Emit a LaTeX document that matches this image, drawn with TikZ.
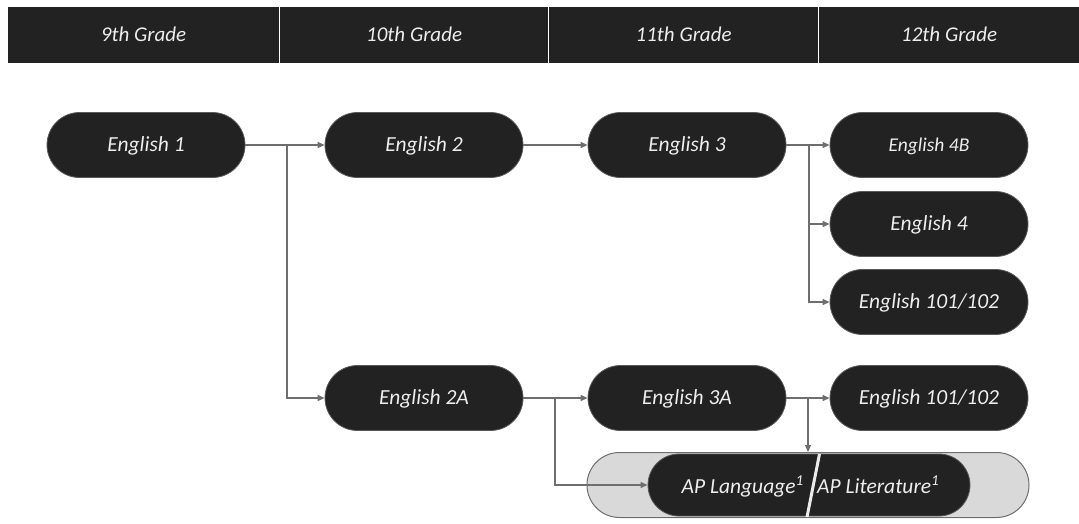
\documentclass[tikz,border=0pt]{standalone}
\usepackage{fontspec}
\setmainfont{Carlito}
\usetikzlibrary{shapes.misc,arrows.meta}
\definecolor{pilldark}{HTML}{222222}
\definecolor{pillline}{HTML}{5A5A5A}
\definecolor{linkgray}{HTML}{6E6E6E}
\definecolor{lightpill}{HTML}{D9D9D9}
\definecolor{txt}{HTML}{EEEEEE}
\tikzset{
  course/.style={rounded rectangle, fill=pilldark, draw=pillline, line width=0.8pt,
    minimum width=198pt, minimum height=65pt, inner sep=0pt,
    text height=15pt, text depth=2pt,
    text=txt, font=\fontsize{21.5}{24}\selectfont\itshape},
  header/.style={rectangle, fill=pilldark, draw=white, line width=1.2pt,
    minimum height=57pt, inner sep=0pt, anchor=north west,
    text height=15pt, text depth=2pt,
    text=txt, font=\fontsize{21}{24}\selectfont\itshape},
  aptext/.style={text=txt, font=\fontsize{21.5}{24}\selectfont\itshape, inner sep=0pt},
  link/.style={draw=linkgray, line width=1.3pt, -{Triangle[length=7pt,width=6pt]}}
}
\begin{document}
\begin{tikzpicture}[x=1pt,y=-1pt]
\useasboundingbox (0,0) rectangle (1079,523);
% header
\draw[draw=gray!60, line width=1pt, fill=pilldark] (7,6) rectangle (1079,63);
\node[header, minimum width=272pt] (h9) at (7,6) {9th Grade};
\node[header, minimum width=269pt] (h10) at (279,6) {10th Grade};
\node[header, minimum width=270pt] (h11) at (548,6) {11th Grade};
\node[header, minimum width=261pt] (h12) at (818,6) {12th Grade};
% courses
\node[course] (e1) at (146,145) {English 1};
\node[course] (e2) at (424,145) {English 2};
\node[course] (e3) at (687,145) {English 3};
\node[course, font=\fontsize{19.5}{22}\selectfont\itshape] (e4b) at (929,145) {English 4B};
\node[course] (e4) at (929,224) {English 4};
\node[course] (e101a) at (929,302) {English 101/102};
\node[course] (e2a) at (424,398) {English 2A};
\node[course] (e3a) at (687,398) {English 3A};
\node[course] (e101b) at (929,398) {English 101/102};
% AP group
\node[rounded rectangle, fill=lightpill, draw=linkgray, line width=1pt,
  minimum width=442pt, minimum height=65pt, inner sep=0pt] (apout) at (808,485) {};
\node[course, minimum width=322pt, minimum height=62pt] (apin) at (809,485) {};
\node[aptext, anchor=base east] (apl) at (804,493) {AP Language\textsuperscript{1}};
\node[aptext, anchor=base west] (aplit) at (817,493) {AP Literature\textsuperscript{1}};
\coordinate (slt) at (819.5,454);
\coordinate (slb) at (807,517);
\draw[white!92!black, line width=3pt] (slt) -- (slb);
% connectors
\coordinate (b1) at (287,145);
\coordinate (b2) at (809,145);
\coordinate (b3) at (555,398);
\coordinate (b4) at (808,398);
\draw[link] (e1.east) -- (e2.west);
\draw[link] (b1) |- (e2a.west);
\draw[link] (e2.east) -- (e3.west);
\draw[link] (e3.east) -- (e4b.west);
\draw[link] (b2) |- (e4.west);
\draw[link] (b2) |- (e101a.west);
\draw[link] (e2a.east) -- (e3a.west);
\draw[link] (b3) |- (apin.west);
\draw[link] (e3a.east) -- (e101b.west);
\draw[link] (b4) -- (b4 |- apout.north);
\end{tikzpicture}
\end{document}
